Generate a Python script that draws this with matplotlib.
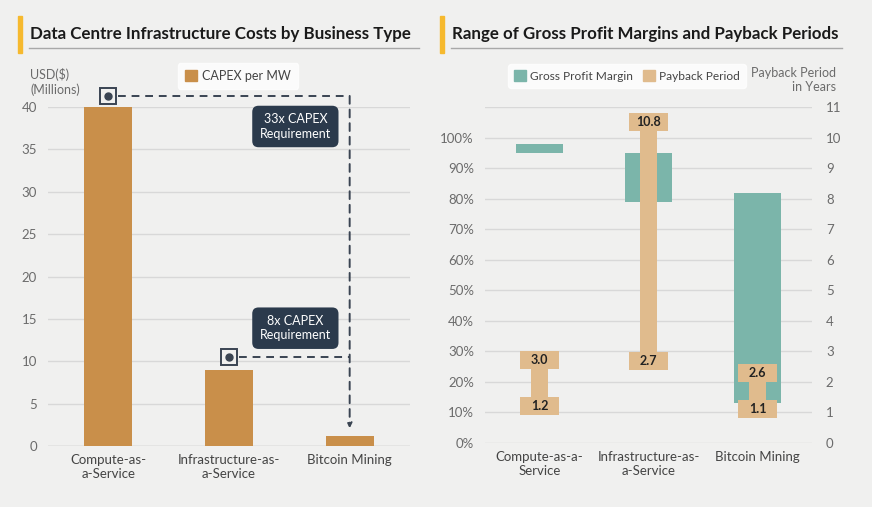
import matplotlib.pyplot as plt
import matplotlib.patches as mpatches
from matplotlib.lines import Line2D
import numpy as np

plt.rcParams['font.family'] = ['Lato', 'DejaVu Sans']

# ---- data ----
categories = ['Compute-as-\na-Service', 'Infrastructure-as-\na-Service', 'Bitcoin Mining']
categories_right = ['Compute-as-a-\nService', 'Infrastructure-as-\na-Service', 'Bitcoin Mining']
capex_per_mw = [40, 9, 1.2]
capex_notes = ['33x CAPEX\nRequirement', '8x CAPEX\nRequirement']

margin_low = [95, 79, 13]
margin_high = [98, 95, 82]
payback_low = [1.2, 2.7, 1.1]
payback_high = [3.0, 10.8, 2.6]

BG = '#f0f0ef'
ORANGE = '#c98f4a'
TEAL = '#7bb5aa'
TAN = '#e0bb8d'
NAVY = '#2b3a4c'
GRID = '#d8d8d8'
TICK = '#6b6b6b'
DARK = '#3a4452'

fig = plt.figure(figsize=(8.72, 5.07), dpi=100, facecolor=BG)
W, H = 872, 507


def fx(px):
    return px / W


def fy(py):
    return 1 - py / H


# ---- titles ----
def header(x0, x1, bar_x, text):
    fig.patches.append(mpatches.Rectangle((fx(bar_x), fy(53)), fx(4), 37 / H,
                                          transform=fig.transFigure, color='#f6b92e'))
    fig.lines.append(Line2D([fx(x0), fx(x1)], [fy(48), fy(48)], transform=fig.transFigure,
                            color='#a8a8a8', lw=1))
    fig.text(fx(x0 + 1), fy(34), text, fontsize=12.2, fontweight='bold', color='#1a1a1a',
             va='center', ha='left')


header(29, 419, 18, 'Data Centre Infrastructure Costs by Business Type')
header(451, 842, 440, 'Range of Gross Profit Margins and Payback Periods')

# ---- left chart ----
ax = fig.add_axes([fx(48), fy(446), fx(410 - 48), (446 - 107) / H])
ax.set_facecolor(BG)
x = np.arange(len(categories))
ax.bar(x, capex_per_mw, width=0.4, color=ORANGE, zorder=2)
ax.set_xlim(-0.5, 2.5)
ax.set_ylim(0, 40)
ax.set_yticks(np.arange(0, 41, 5))
ax.yaxis.grid(True, color=GRID, lw=1)
ax.set_axisbelow(True)
for s in ax.spines.values():
    s.set_visible(False)
ax.axhline(0, color='#c8c8c8', lw=1, zorder=1)
ax.tick_params(length=0, labelsize=9.5, colors=TICK, pad=8)
ax.set_xticks(x)
ax.set_xticklabels(categories, color='#444444', fontsize=9.5, linespacing=1.15)
ax.tick_params(axis='x', pad=6)
fig.text(fx(30), fy(82), 'USD($)\n(Millions)', fontsize=9, color=TICK, va='center',
         ha='left', linespacing=1.15)

# dashed comparison lines
mark_y = [capex_per_mw[0] + 1.3, capex_per_mw[1] + 1.5]
for i, my in enumerate(mark_y):
    ax.plot([x[i] + 0.08, x[2]], [my, my], ls=(0, (4, 3)), color=DARK, lw=1.4,
            clip_on=False, zorder=3)
    ax.plot(x[i], my, marker='s', ms=11, mfc=BG, mec=DARK, mew=1.4, clip_on=False, zorder=4)
    ax.plot(x[i], my, marker='o', ms=5, color=DARK, clip_on=False, zorder=5)
ax.annotate('', xy=(x[2], capex_per_mw[2] + 0.9), xytext=(x[2], mark_y[0]),
            arrowprops=dict(arrowstyle='-|>', ls=(0, (4, 3)), color=DARK, lw=1.4,
                            mutation_scale=7, shrinkA=0, shrinkB=0), zorder=3)
note_y = [37.7, 13.9]
for note, ny in zip(capex_notes, note_y):
    ax.text(1.55, ny, note, ha='center', va='center', color='white', fontsize=9,
            linespacing=1.25, zorder=6,
            bbox=dict(boxstyle='round,pad=0.6,rounding_size=0.5', fc=NAVY, ec='none'))

leg1 = fig.legend(handles=[mpatches.Patch(color=ORANGE, label='CAPEX per MW')],
                  loc='center', bbox_to_anchor=(fx(238), fy(76)), frameon=True,
                  fontsize=9, handlelength=1.0, handleheight=1.0, handletextpad=0.4,
                  borderpad=0.55, fancybox=True)
leg1.get_frame().set_facecolor('white')
leg1.get_frame().set_edgecolor('white')
for t in leg1.get_texts():
    t.set_color('#444444')

# ---- right chart ----
ax2 = fig.add_axes([fx(485), fy(443), fx(812 - 485), (443 - 107) / H])
ax2.set_facecolor(BG)
ax2.set_xlim(-0.5, 2.5)
ax2.set_ylim(0, 110)
ax2.set_yticks(np.arange(0, 101, 10))
ax2.set_yticklabels([f'{v}%' for v in range(0, 101, 10)])
ax2.bar(x, np.array(margin_high) - np.array(margin_low), bottom=margin_low, width=0.43,
        color=TEAL, zorder=2)
for s in ax2.spines.values():
    s.set_visible(False)
ax2.tick_params(length=0, labelsize=9.5, colors=TICK, pad=8)
ax2.set_xticks(x)
ax2.set_xticklabels(categories_right, color='#444444', fontsize=9.5, linespacing=1.15)
ax2.tick_params(axis='x', pad=6)

ax3 = ax2.twinx()
ax3.set_ylim(0, 11)
ax3.set_yticks(np.arange(0, 12, 1))
ax3.yaxis.grid(True, color=GRID, lw=1)
ax3.set_axisbelow(True)
for s in ax3.spines.values():
    s.set_visible(False)
ax3.tick_params(length=0, labelsize=9.5, colors=TICK, pad=10)
ax2.set_zorder(2)
ax3.set_zorder(1)
ax2.patch.set_visible(False)

# payback ranges drawn on the percent axis (10% == 1 year)
box_h = 0.59
lo = np.array(payback_low) * 10
hi = np.array(payback_high) * 10
ax2.bar(x, hi - lo, bottom=lo, width=0.165, color=TAN, zorder=3)
ax2.bar(x, box_h * 10, bottom=hi - box_h * 10, width=0.35, color=TAN, zorder=4)
ax2.bar(x, box_h * 10, bottom=lo - box_h * 10 / 2, width=0.35, color=TAN, zorder=4)
for i in range(len(x)):
    ax2.text(x[i], hi[i] - box_h * 5, f'{payback_high[i]:.1f}', ha='center', va='center',
             fontsize=9, fontweight='bold', color='#222222', zorder=5)
    ax2.text(x[i], lo[i], f'{payback_low[i]:.1f}', ha='center', va='center',
             fontsize=9, fontweight='bold', color='#222222', zorder=5)

fig.text(fx(836), fy(80), 'Payback Period\nin Years', fontsize=9, color=TICK,
         ha='right', va='center', linespacing=1.15)

leg2 = fig.legend(handles=[mpatches.Patch(color=TEAL, label='Gross Profit Margin'),
                           mpatches.Patch(color=TAN, label='Payback Period')],
                  loc='center', bbox_to_anchor=(fx(627), fy(76)), ncol=2, frameon=True,
                  fontsize=8.6, handlelength=1.0, handleheight=1.0, handletextpad=0.35,
                  columnspacing=0.8, borderpad=0.5, borderaxespad=0, fancybox=True)
leg2.get_frame().set_facecolor('white')
leg2.get_frame().set_edgecolor('white')
for t in leg2.get_texts():
    t.set_color('#444444')

fig.savefig('out.png', dpi=100, facecolor=BG)
